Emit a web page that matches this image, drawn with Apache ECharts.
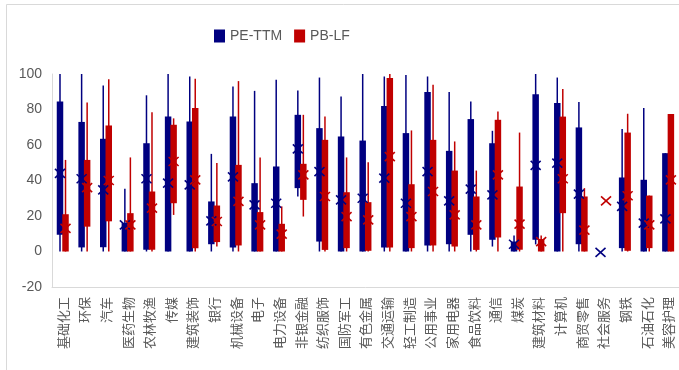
<!DOCTYPE html>
<html>
<head>
<meta charset="utf-8">
<script src="https://cdn.jsdelivr.net/npm/echarts@6/dist/echarts.min.js"></script>
<style>
html,body{margin:0;padding:0;background:#fff;}
#main{width:679px;height:370px;}
</style>
</head>
<body>
<div id="main"></div>
<script>
var categories = ['基础化工','环保','汽车','医药生物','农林牧渔','传媒','建筑装饰','银行','机械设备','电子','电力设备','非银金融','纺织服饰','国防军工','有色金属','交通运输','轻工制造','公用事业','家用电器','食品饮料','通信','煤炭','建筑材料','计算机','商贸零售','社会服务','钢铁','石油石化','美容护理'];

// PE-TTM
var peLow  = [0, 0, 0, 0, 0, 0, 0, 0, 0, 0, 0, 31, 0, 0, 0, 0, 0, 0, 0, 0, 2.8, 0, 4, 0, 0, null, 0, 0, 0];
var peQ1   = [9.4, 2.3, 2.4, 0, 1, 0, 0, 4.1, 2.3, 0, 0, 35.7, 5.6, 0, 0, 2.3, 0, 3.4, 4.1, 9.4, 6.6, 0, 6.6, 0, 4.1, null, 1.9, 0, 0];
var peQ3   = [84.5, 73, 63.5, 16, 61, 76, 73.2, 28.2, 76, 38.5, 47.9, 77, 69.5, 64.8, 62.5, 82, 66.7, 89.8, 56.7, 74.6, 61, 5.6, 88.6, 83.6, 69.9, null, 41.7, 40.4, 55.4];
var peHigh = [100, 100, 93.5, 35.3, 88, 100, 98.6, 55, 93, 90.5, 96.7, 90.7, 98, 87.3, 100, 98.6, 99.5, 98.6, 89.8, 84.5, 68, 9, 100, 98, 84.2, null, 69, 80.8, 55.4];
var peCur  = [44, 41, 34.7, 15, 41, 38.5, 37.5, 17.3, 42, 26.3, 27.2, 57.8, 45, 29.1, 30, 41.3, 27.2, 45, 28.5, 35.1, 31.9, 4.1, 48.5, 49.8, 32.3, -0.5, 25.4, 16, 18.4];

// PB-LF
var pbLow  = [0, 0, 0, 0, 0, 20.6, 0, 2.8, 0, 0, 0, 19.7, 0, 0, 0, 0, 0, 0, 0, 0, 0, 0, 0, 0, 0, null, 0, 0, 0];
var pbQ1   = [0, 14, 17, 0, 1, 27.2, 1.9, 5.3, 3.4, 0, 0, 29.1, 0.9, 1.9, 0.4, 2.3, 1.9, 3.4, 2.8, 0.9, 7.9, 1, 0, 21.6, 0, null, 0.4, 1.9, 0];
var pbQ3   = [21, 51.6, 71, 21.6, 33.8, 71.4, 80.8, 25.9, 48.8, 22.2, 15.6, 49.4, 62.9, 33.4, 27.8, 97.7, 37.9, 62.9, 45.6, 31, 74.2, 36.6, 7, 76, 31, null, 67, 31.5, 77.4];
var pbHigh = [51.6, 84, 97, 53, 78.5, 75, 97.3, 49.8, 96, 53, 25.4, 77, 76, 53, 50.3, 100, 68.2, 93.9, 62, 45.6, 78.9, 67, 9, 91.6, 35.7, null, 77.6, 31.5, 77.4];
var pbCur  = [13, 36, 40, 15, 24.4, 50.7, 40.4, 16.9, 28.2, 15, 9.8, 43.2, 31, 19.7, 17.8, 53.5, 19.7, 33.8, 20.6, 15, 43.2, 15.4, 5.6, 41, 12, 28.5, 31.4, 15, 40.4];

var yTicks = {min: -20, max: 100, interval: 20};

var BLUE = '#000080', RED = '#C00000';

function rows(low, q1, q3, high) {
  return categories.map(function (c, i) { return [i, low[i], q1[i], q3[i], high[i]]; });
}
function curRows(cur) {
  return categories.map(function (c, i) { return [i, cur[i]]; });
}
function isNum(v) { return v != null && !isNaN(v); }

function boxRender(offsetFrac, color) {
  return function (params, api) {
    var idx = api.value(0);
    var lo = api.value(1), q1 = api.value(2), q3 = api.value(3), hi = api.value(4);
    if (!isNum(lo) || !isNum(hi)) return;
    var band = api.size([1, 0])[0];
    var cx = api.coord([idx, 0])[0] + band * offsetFrac;
    var yLo = api.coord([idx, lo])[1], yHi = api.coord([idx, hi])[1];
    var yQ1 = api.coord([idx, q1])[1], yQ3 = api.coord([idx, q3])[1];
    var w = band * 0.3;
    return {
      type: 'group',
      children: [
        {type: 'line', shape: {x1: cx, y1: yHi, x2: cx, y2: yLo}, style: {stroke: color, lineWidth: 1.5}},
        {type: 'rect', shape: {x: cx - w / 2, y: yQ3, width: w, height: Math.max(yQ1 - yQ3, 0.5)}, style: {fill: color}}
      ]
    };
  };
}
function markRender(offsetFrac, color) {
  return function (params, api) {
    var idx = api.value(0), v = api.value(1);
    if (!isNum(v)) return;
    var band = api.size([1, 0])[0];
    var p = api.coord([idx, v]);
    var cx = p[0] + band * offsetFrac, cy = p[1];
    var h = 5, hh = 4.5;
    return {
      type: 'group',
      children: [
        {type: 'line', shape: {x1: cx - h, y1: cy - hh, x2: cx + h, y2: cy + hh}, style: {stroke: color, lineWidth: 1.6}},
        {type: 'line', shape: {x1: cx - h, y1: cy + hh, x2: cx + h, y2: cy - hh}, style: {stroke: color, lineWidth: 1.6}}
      ]
    };
  };
}

var chart = echarts.init(document.getElementById('main'));
chart.setOption({
  animation: false,
  backgroundColor: '#fff',
  graphic: [{
    type: 'rect', left: 4, top: 2, silent: true,
    shape: {width: 700, height: 366},
    style: {fill: 'none', stroke: '#d9d9d9', lineWidth: 1}
  }],
  legend: {
    left: 209, top: 24,
    itemWidth: 11, itemHeight: 13, itemGap: 12,
    icon: 'rect',
    textStyle: {color: '#595959', fontSize: 14, fontFamily: 'Liberation Sans, Arial, sans-serif'},
    data: [{name: 'PE-TTM', itemStyle: {color: BLUE}}, {name: 'PB-LF', itemStyle: {color: RED}}]
  },
  grid: {left: 52, right: 0, top: 74, bottom: 83, containLabel: false},
  xAxis: {
    type: 'category',
    data: categories,
    boundaryGap: true,
    axisLine: {onZero: false, lineStyle: {color: '#d9d9d9', width: 1}},
    axisTick: {show: false},
    axisLabel: {
      interval: 0, rotate: 90, margin: 10,
      color: '#595959', fontSize: 13,
      fontFamily: 'Noto Sans CJK SC, sans-serif'
    },
    splitLine: {show: false}
  },
  yAxis: {
    type: 'value',
    min: yTicks.min, max: yTicks.max, interval: yTicks.interval,
    axisLine: {show: true, lineStyle: {color: '#d9d9d9', width: 1}},
    axisTick: {show: false},
    splitLine: {show: false},
    axisLabel: {color: '#595959', fontSize: 14, margin: 10, fontFamily: 'Liberation Sans, Arial, sans-serif'}
  },
  series: [
    {name: 'PE-TTM', type: 'custom', itemStyle: {color: BLUE}, renderItem: boxRender(-0.13, BLUE),
     encode: {x: 0, y: [1, 2, 3, 4]}, data: rows(peLow, peQ1, peQ3, peHigh), z: 2},
    {name: 'PB-LF', type: 'custom', itemStyle: {color: RED}, renderItem: boxRender(0.125, RED),
     encode: {x: 0, y: [1, 2, 3, 4]}, data: rows(pbLow, pbQ1, pbQ3, pbHigh), z: 3},
    {name: 'PE-TTM', type: 'custom', itemStyle: {color: BLUE}, renderItem: markRender(-0.13, BLUE),
     encode: {x: 0, y: 1}, data: curRows(peCur), z: 4},
    {name: 'PB-LF', type: 'custom', itemStyle: {color: RED}, renderItem: markRender(0.125, RED),
     encode: {x: 0, y: 1}, data: curRows(pbCur), z: 5}
  ]
});
</script>
</body>
</html>
